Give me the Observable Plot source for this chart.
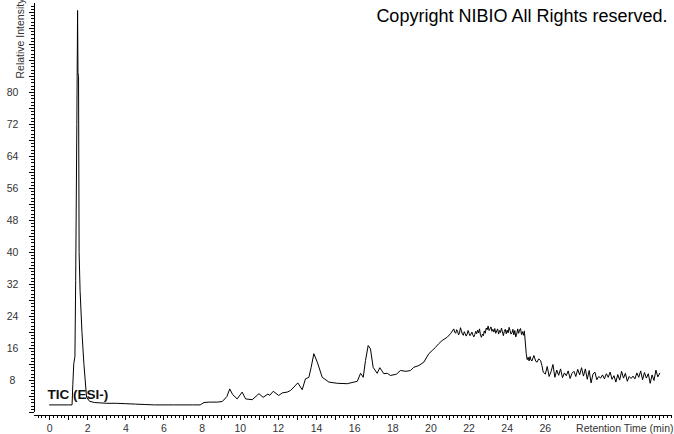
<!DOCTYPE html>
<html>
<head>
<meta charset="utf-8">
<script src="https://cdn.jsdelivr.net/npm/d3@7"></script>
<script src="https://cdn.jsdelivr.net/npm/@observablehq/plot@0.6"></script>
<style>
  html, body { margin: 0; padding: 0; background: #fff; }
  svg { display: block; }
</style>
</head>
<body>
<script>
// Retention time (min)
const times = [
  0.0, 0.5, 1.0, 1.18, 1.22, 1.27, 1.33, 1.37, 1.43, 1.47, 1.49, 1.52, 1.55, 1.6, 1.7, 1.8, 1.94, 2.1, 2.35,
  3.0, 3.5, 4.0, 4.5, 5.0, 5.5, 6.0, 6.5, 7.0, 7.5, 7.9, 8.1, 8.4, 8.8, 9.06, 9.3, 9.45, 9.6, 9.84,
  10.1, 10.28, 10.63, 10.98, 11.2, 11.45, 11.55, 11.73, 12.02, 12.2, 12.46, 12.64, 13.02, 13.25, 13.42,
  13.6, 13.72, 13.86, 14.04, 14.3, 14.65, 15.09, 15.61, 16.14, 16.31, 16.45, 16.57, 16.71,
  16.83, 16.97, 17.18, 17.32, 17.53, 17.71, 17.88, 18.2, 18.4, 18.7, 18.93, 19.1, 19.37, 19.63, 19.89,
  20.07, 20.24, 20.41, 20.59, 20.85, 21.03,
  21.20, 21.25, 21.30, 21.35, 21.40, 21.45, 21.50, 21.55, 21.60, 21.65, 21.70, 21.75, 21.80, 21.85, 21.90, 21.95,
  22.00, 22.05, 22.10, 22.15, 22.20, 22.25, 22.30, 22.35, 22.40, 22.45, 22.50, 22.55, 22.60, 22.65, 22.70, 22.75,
  22.80, 22.85, 22.90, 22.95, 23.00, 23.05, 23.10, 23.15, 23.20, 23.25, 23.30, 23.35, 23.40, 23.45, 23.50, 23.55,
  23.60, 23.65, 23.70, 23.75, 23.80, 23.85, 23.90, 23.95, 24.00, 24.05, 24.10, 24.15, 24.20, 24.25, 24.30, 24.35,
  24.40, 24.45, 24.50, 24.55, 24.60, 24.65, 24.70, 24.75, 24.80, 24.85, 24.90,
  25.0, 25.05, 25.1, 25.15, 25.2, 25.25, 25.3, 25.35, 25.4, 25.5, 25.57, 25.65, 25.75, 25.82, 25.89,
  26.0, 26.1, 26.2, 26.3, 26.4, 26.5, 26.6, 26.7, 26.8, 26.9, 27.0, 27.1, 27.2, 27.3, 27.4, 27.5,
  27.6, 27.7, 27.8, 27.9, 28.0, 28.1, 28.2, 28.3, 28.4, 28.5, 28.6, 28.7, 28.8, 28.9, 29.0, 29.1,
  29.2, 29.3, 29.4, 29.5, 29.6, 29.7, 29.8, 29.9, 30.0, 30.1, 30.2, 30.3, 30.4, 30.5, 30.6, 30.7,
  30.8, 30.9, 31.0, 31.1, 31.2, 31.3, 31.4, 31.5, 31.6, 31.7, 31.8, 31.9, 32.0
];
// Relative intensity
const intensity = [
  1.9, 1.9, 1.9, 1.9, 7.0, 12.2, 14.0, 33.0, 72.0, 100.5, 85.0, 84.0, 40.0, 30.5, 20.0, 12.2, 3.8, 2.8, 2.5,
  2.3, 2.3, 2.2, 2.1, 2.0, 1.9, 1.9, 1.9, 1.9, 1.9, 1.9, 2.5, 2.6, 2.6, 2.75, 4.0, 5.9, 4.5, 3.4,
  5.1, 3.4, 3.2, 4.7, 3.8, 4.6, 4.3, 5.3, 4.25, 4.9, 5.1, 5.5, 7.4, 5.7, 8.4,
  8.8, 11.3, 14.7, 12.6, 8.8, 7.6, 7.3, 7.2, 7.8, 9.8, 8.8, 13.0, 16.75,
  15.9, 11.3, 9.8, 11.2, 9.7, 9.8, 9.25, 9.6, 10.5, 10.3, 10.5, 11.3, 11.75, 12.6, 14.7,
  15.5, 16.3, 17.2, 18.0, 18.8, 19.7,
  20.9, 20.1, 19.8, 20.7, 20.3, 19.4, 19.9, 21.2, 20.4, 19.6, 19.3, 20.2, 19.7, 19.1, 19.6, 20.5,
  19.8, 19.2, 19.6, 20.1, 19.4, 18.9, 19.5, 20.3, 19.7, 20.6, 19.9, 20.9, 19.3, 18.8, 19.6, 19.2,
  20.4, 19.8, 21.1, 20.7, 21.6, 20.5, 20.9, 21.4, 20.3, 20.8, 20.1, 21.0, 19.8, 20.4, 20.9, 19.6,
  20.5, 20.0, 21.1, 20.2, 19.2, 20.3, 20.8, 19.7, 20.6, 19.9, 21.3, 20.5, 19.6, 19.9, 20.8, 19.4,
  20.5, 18.9, 19.6, 20.9, 19.8, 20.6, 21.0, 19.5, 20.2, 19.3, 20.4,
  14.7, 13.2, 13.8, 12.9, 14.0, 13.1, 12.9, 13.6, 14.25, 12.8, 12.6, 13.4, 13.0, 11.8, 10.1,
  9.6, 11.5, 9.0, 10.2, 12.0, 8.8, 10.6, 9.3, 10.9, 8.7, 9.9, 9.2, 10.4, 8.5, 9.8, 10.3,
  9.0, 10.8, 9.4, 11.2, 9.1, 10.9, 8.3, 10.5, 7.4, 9.6, 10.1, 8.2, 9.0, 8.6, 9.4, 8.4,
  9.7, 8.8, 10.1, 8.3, 9.2, 7.6, 9.5, 8.1, 10.3, 8.6, 9.8, 7.8, 9.0, 8.5, 9.1, 8.4,
  9.9, 8.8, 10.4, 8.2, 10.0, 8.6, 9.7, 7.3, 9.4, 8.0, 10.6, 8.9, 9.8
];
// Tick labels
const xTickLabels = [0, 2, 4, 6, 8, 10, 12, 14, 16, 18, 20, 22, 24, 26];
const yTickLabels = [8, 16, 24, 32, 40, 48, 56, 64, 72, 80];
const xMinorTicks = d3.range(-0.6, 32.7, 0.2);
const xMajorTicks = d3.range(0, 33, 1);
const yMinorTicks = d3.range(0, 102.1, 0.8);
const yMajorTicks = d3.range(0, 101, 4);

const data = times.map((t, i) => ({t, v: intensity[i]}));

const font = "'Liberation Sans', Arial, sans-serif";
const chart = Plot.plot({
  width: 674,
  height: 434,
  marginLeft: 34,
  marginRight: 2,
  marginTop: 3,
  marginBottom: 19,
  style: {fontFamily: font, background: "#fff", color: "#000", overflow: "hidden"},
  x: {domain: [-0.79, 32.67], label: null},
  y: {domain: [-0.75, 102.25], label: null},
  marks: [
    Plot.ruleY([-0.75], {stroke: "#000", shapeRendering: "crispEdges"}),
    Plot.ruleX([-0.79], {y1: 0, y2: 102.25, stroke: "#000", shapeRendering: "crispEdges"}),
    Plot.axisX(xMinorTicks, {tickSize: 3, tickFormat: () => "", label: null, shapeRendering: "crispEdges"}),
    Plot.axisX(xMajorTicks, {tickSize: 5, tickFormat: () => "", label: null, shapeRendering: "crispEdges"}),
    Plot.axisX(xTickLabels, {tickSize: 0, tickPadding: 9, fontSize: 10.5, fill: "#333", label: null}),
    Plot.axisY(yMinorTicks, {tickSize: 3, tickFormat: () => "", label: null, shapeRendering: "crispEdges"}),
    Plot.axisY(yMajorTicks, {tickSize: 5, tickFormat: () => "", label: null, shapeRendering: "crispEdges"}),
    Plot.axisY(yTickLabels, {tickSize: 0, tickPadding: 22, textAnchor: "middle", fontSize: 10.5, fill: "#333", label: null}),
    Plot.text(["Relative Intensity"], {text: d => d, frameAnchor: "top-left", rotate: -90, textAnchor: "start", lineAnchor: "bottom", dx: -11, dy: 75, fontSize: 10.5, fill: "#333"}),
    Plot.text(["Retention Time (min)"], {text: d => d, frameAnchor: "bottom-right", textAnchor: "end", lineAnchor: "top", dx: 1, dy: 9, fontSize: 10.5, fill: "#333"}),
    Plot.text(["TIC (ESI-)"], {text: d => d, frameAnchor: "bottom-left", textAnchor: "start", lineAnchor: "bottom", dx: 13, dy: -17, fontSize: 13.5, fontWeight: "bold", fill: "#111"}),
    Plot.line(data, {x: "t", y: "v", stroke: "#000", strokeWidth: 1}),
    Plot.text(["Copyright NIBIO All Rights reserved."], {text: d => d, frameAnchor: "top-right", textAnchor: "end", lineAnchor: "bottom", dx: -5, dy: 18, fontSize: 18, fill: "#000"})
  ]
});
document.body.appendChild(chart);
</script>
</body>
</html>
